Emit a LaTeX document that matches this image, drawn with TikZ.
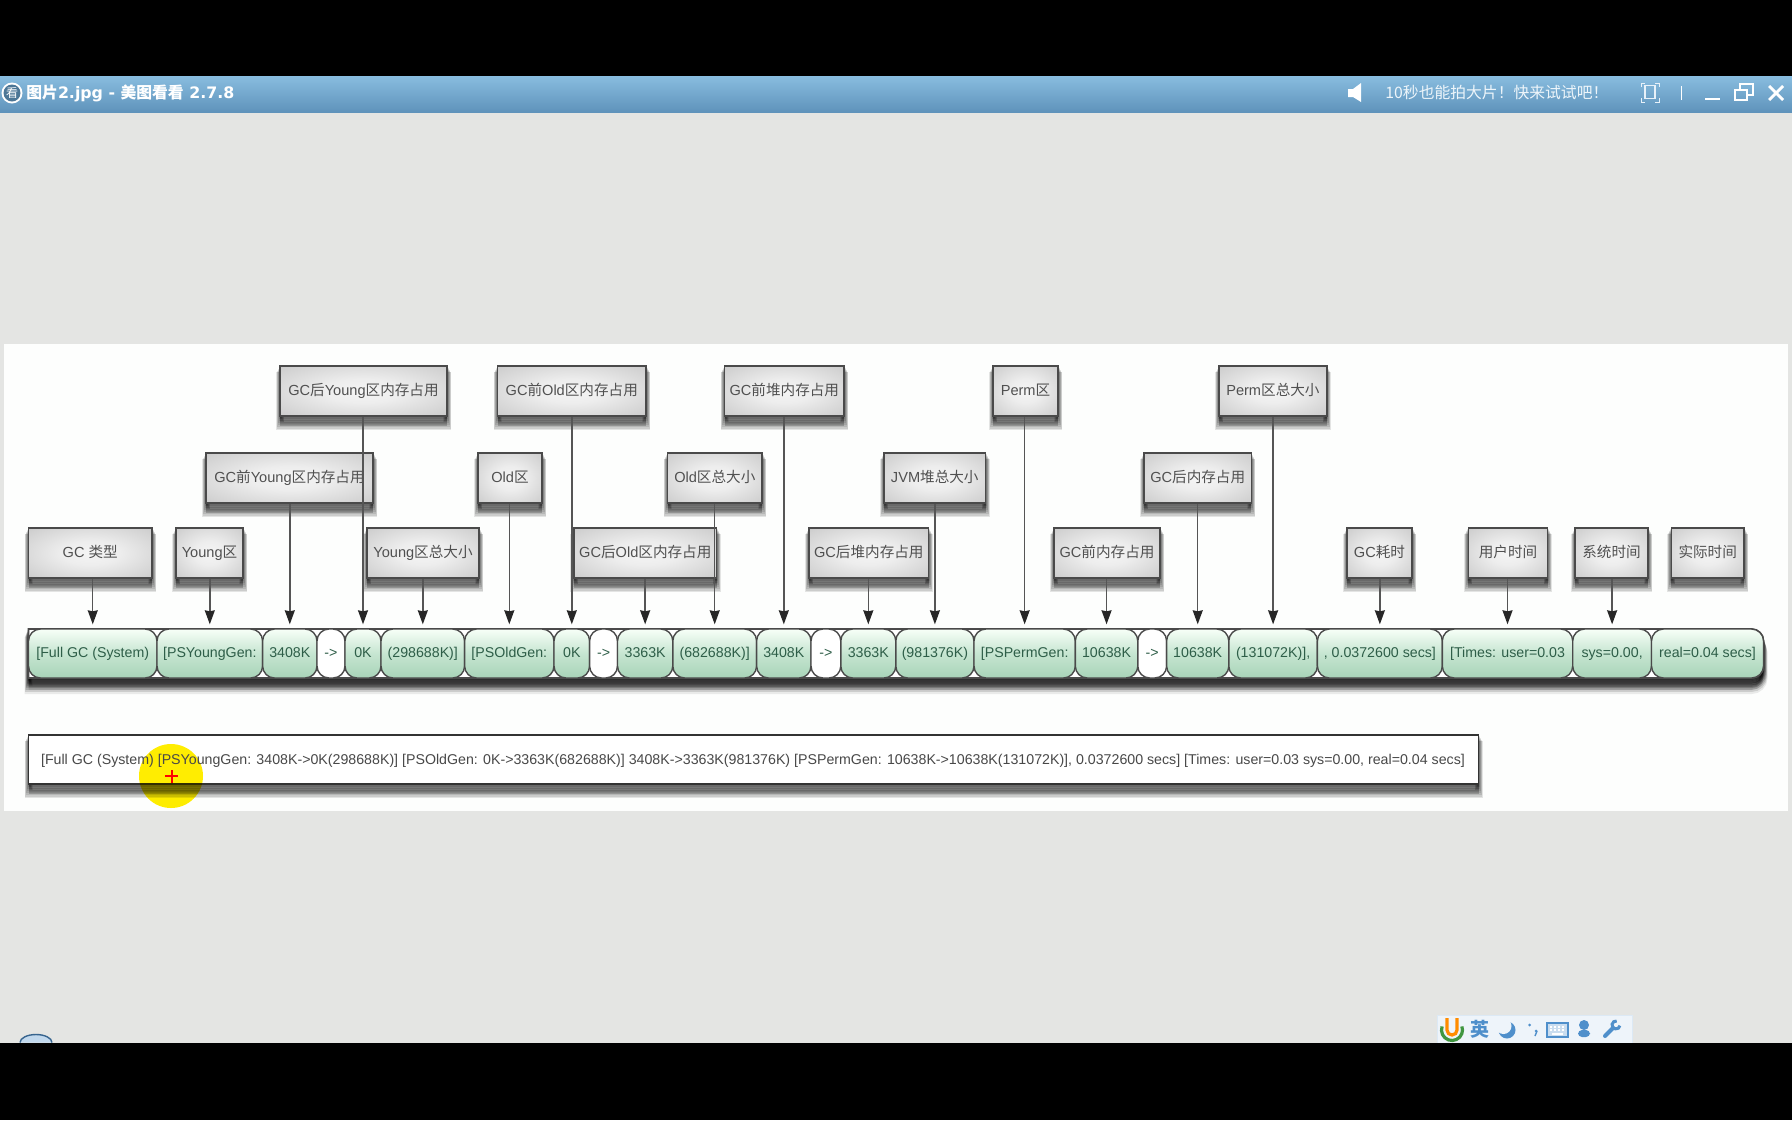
\documentclass[tikz,border=0pt]{standalone}
\usepackage{fontspec}
\setmainfont{Liberation Sans}
\newfontfamily\cjk{Noto Sans CJK SC}
\newfontfamily\uifont{DejaVu Sans}
\usetikzlibrary{arrows.meta,calc}
\newcommand{\zh}[1]{{\cjk #1}}
\definecolor{pagebg}{HTML}{E4E5E3}
\definecolor{panelc}{HTML}{FDFEFD}
\definecolor{labeltxt}{HTML}{505050}
\definecolor{segtxt}{HTML}{2E5E48}
\definecolor{edgec}{HTML}{4A4A4A}
\definecolor{linkc}{HTML}{555555}
\definecolor{traybg}{HTML}{EEF4FA}
\definecolor{trayblue}{HTML}{4F8FCB}
\definecolor{HLgreen}{HTML}{A8D4B8}
\definecolor{HLmid}{HTML}{C6E5D1}
\definecolor{HLtop}{HTML}{88BCDF}
\definecolor{HLbot}{HTML}{5F93BB}
\pgfdeclareradialshading{boxrad}{\pgfpointorigin}{rgb(0bp)=(.96,.96,.96);rgb(12bp)=(.93,.93,.93);rgb(32bp)=(.82,.82,.82);rgb(50bp)=(.70,.70,.70);rgb(72bp)=(.58,.58,.58)}
\tikzset{
  shadowlayer/.style n args={3}{preaction={draw=black,fill=black,opacity=#1,line width=#2,transform canvas={yshift=#3}}},
  softshadow/.style={
    shadowlayer={.10}{4pt}{-5.2pt},shadowlayer={.10}{3.5pt}{-4.8pt},shadowlayer={.10}{3pt}{-4pt},
    shadowlayer={.10}{2.5pt}{-3.2pt},shadowlayer={.10}{2pt}{-2.4pt},shadowlayer={.10}{1.5pt}{-1.6pt},shadowlayer={.10}{1pt}{-.8pt}},
  darkshadow/.style={
    shadowlayer={.08}{4pt}{-6pt},shadowlayer={.12}{3.5pt}{-5.2pt},shadowlayer={.16}{3pt}{-4.4pt},
    shadowlayer={.20}{2.5pt}{-3.6pt},shadowlayer={.22}{2pt}{-2.8pt},shadowlayer={.24}{1.5pt}{-2pt},shadowlayer={.25}{1pt}{-1pt}},
  labelbox/.style={draw=edgec,line width=.7pt,shading=boxrad,softshadow,inner sep=0pt,minimum height=25pt,text=labeltxt,text height=6pt,text depth=1.5pt,font=\fontsize{7.3}{9}\selectfont},
  greenseg/.style={draw=edgec,line width=.7pt,rounded corners=6pt,top color=green!3!white,bottom color=HLgreen,middle color=HLmid,inner sep=0pt,minimum height=24.5pt,text=segtxt,text height=5.5pt,text depth=1.5pt,font=\fontsize{7.1}{9}\selectfont},
  whiteseg/.style={draw=edgec,line width=.7pt,rounded corners=6pt,fill=white,inner sep=0pt,minimum height=24.5pt,text=segtxt,text height=5.5pt,text depth=1.5pt,font=\fontsize{7.1}{9}\selectfont},
  pointer/.style={draw=linkc,line width=.7pt,-{Stealth[length=7pt,width=5pt,inset=.5pt,color=black!85]},shorten >=2pt},
  chrometxt/.style={inner sep=0pt,anchor=west},
  chromeline/.style={draw=white,line width=1pt}
}
\begin{document}
\begin{tikzpicture}[x=0.5pt,y=-0.5pt]
\useasboundingbox (0,0) rectangle (1792,1120);
% screen
\fill[pagebg] (0,0) rectangle (1792,1120);
\fill[black] (0,0) rectangle (1792,76.5);
\shade[top color=HLtop,bottom color=HLbot] (0,76.5) rectangle (1792,112);
% partial dock icon at the screen bottom
\fill[white!65!trayblue] (20,1042.5) arc[start angle=180,end angle=360,x radius=16,y radius=8] -- cycle;
\draw[trayblue!70!black,line width=.7pt] (20,1042.5) arc[start angle=180,end angle=360,x radius=16,y radius=8];
\fill[black] (0,1042.5) rectangle (1792,1120);
% title bar left
\fill[white] (12,93) circle[radius=10.5];
\fill[HLbot!80!black] (12,93) circle[radius=8.5];
\node[text=white,inner sep=0pt,font=\cjk\fontsize{6}{6}\selectfont] (appicon) at (12,93) {看};
\node[chrometxt,text=white,font=\uifont\bfseries\fontsize{7.9}{9}\selectfont] (apptitle) at (26,93) {{\cjk\bfseries 图片}2.jpg - {\cjk\bfseries 美图看看} 2.7.8};
% title bar right
\fill[white] (1348,89) -- (1353,89) -- (1361,83) -- (1361,102) -- (1353,97) -- (1348,97) -- cycle;
\node[chrometxt,text=white!85!HLtop,font=\cjk\fontsize{7.9}{9}\selectfont] (promo) at (1385,93) {10秒也能拍大片！快来试试吧！};
\draw[chromeline,line width=.7pt,white!80!HLtop] (1645,85.5) -- (1655,85.5) -- (1655,98.5) -- (1645,98.5) -- cycle;
\draw[chromeline,line width=.5pt,white!80!HLtop] (1641,87) -- (1641,83) -- (1645,83) (1655,83) -- (1659,83) -- (1659,87) (1659,98) -- (1659,102) -- (1655,102) (1645,102) -- (1641,102) -- (1641,98);
\draw[chromeline,line width=.5pt] (1681,86) -- (1681,100);
\draw[chromeline] (1705,99) -- (1720,99);
\draw[chromeline] (1735,90) rectangle (1747,100);
\draw[chromeline] (1740,90) -- (1740,84) -- (1753,84) -- (1753,95) -- (1747,95);
\draw[chromeline,line width=1.4pt] (1769,86) -- (1783,100) (1783,86) -- (1769,100);
% tray
\fill[traybg] (1437,1015) rectangle (1632,1042.5);
\draw[white!80!trayblue,line width=.5pt] (1437,1042.5) -- (1437,1015) -- (1632,1015) -- (1632,1042.5);
\draw[green!45!black!75,line width=1.6pt] (1442.1,1026.4) arc[start angle=200,end angle=-20,radius=10.5];
\draw[orange!90!yellow,line width=1.6pt] (1447,1018) -- (1447,1030) arc[start angle=180,end angle=0,radius=5] -- (1457,1018);
\node[text=trayblue,inner sep=0pt,font=\cjk\bfseries\fontsize{9.5}{10}\selectfont] (imeglyph) at (1479.5,1029.5) {英};
\fill[trayblue] (1507,1030) circle[radius=8.5];
\fill[traybg] (1503.5,1026) circle[radius=8];
\fill[trayblue] (1529.5,1025) circle[radius=1.5];
\fill[trayblue] (1536,1031) circle[radius=1.5];
\draw[trayblue,line width=.7pt] (1537,1031) -- (1535,1036);
\draw[trayblue,fill=white!70!trayblue,line width=.8pt] (1547,1023) rectangle (1568,1037);
\draw[white,line width=.8pt,dash pattern=on 1pt off 1pt] (1550,1027) -- (1566,1027) (1550,1030) -- (1566,1030);
\draw[white,line width=.8pt] (1552,1034) -- (1563,1034);
\fill[trayblue] (1584,1025) circle[radius=5];
\fill[trayblue,rounded corners=2pt] (1578,1037) rectangle (1590,1030);
\draw[trayblue,line width=2pt,line cap=round] (1605,1036) -- (1613,1028);
\draw[trayblue,line width=1.5pt] (1616.7,1021) arc[start angle=280,end angle=10,radius=4];
% panel
\fill[panelc] (4,344) rectangle (1788,811);
% token bar backing: square at the left, rounded at the right
\path[draw=edgec,line width=.9pt,fill=white,darkshadow] (28.5,629) [rounded corners=6pt] -- (1763.5,629) -- (1763.5,678) [sharp corners] -- (28.5,678) -- cycle;
\foreach \n/\a/\b/\st/\t in {
 s1/28.5/157/greenseg/{[Full GC (System)},
 s2/157/262.6/greenseg/{[PSYoungGen:},
 s3/262.6/317/greenseg/{3408K},
 s4/317/345/whiteseg/{->},
 s5/345/381/greenseg/{0K},
 s6/381/464.6/greenseg/{(298688K)]},
 s7/464.6/554/greenseg/{[PSOldGen:},
 s8/554/589.6/greenseg/{0K},
 s9/589.6/617.5/whiteseg/{->},
 s10/617.5/672.8/greenseg/{3363K},
 s11/672.8/756.6/greenseg/{(682688K)]},
 s12/756.6/811/greenseg/{3408K},
 s13/811/840.8/whiteseg/{->},
 s14/840.8/895.8/greenseg/{3363K},
 s15/895.8/974/greenseg/{(981376K)},
 s16/974/1075.3/greenseg/{[PSPermGen:},
 s17/1075.3/1137.8/greenseg/{10638K},
 s18/1137.8/1166.6/whiteseg/{->},
 s19/1166.6/1228.8/greenseg/{10638K},
 s20/1228.8/1317.4/greenseg/{(131072K)],},
 s21/1317.4/1442.3/greenseg/{, 0.0372600 secs]},
 s22/1442.3/1572.7/greenseg/{[Times: user=0.03},
 s23/1572.7/1651.5/greenseg/{sys=0.00,},
 s24/1651.5/1763.5/greenseg/{real=0.04 secs]}}{
  \pgfmathsetmacro\cx{(\a+\b)/2}
  \pgfmathsetmacro\w{(\b-\a)*0.5}
  \node[\st,minimum width=\w pt] (\n) at (\cx,653.5) {\t};
}
% label boxes
\foreach \n/\a/\b/\y/\t in {
 b1/28.5/152/553/{GC \zh{类型}},
 b2/176/243/553/{Young\zh{区}},
 b3/206/373/478/{GC\zh{前}Young\zh{区内存占用}},
 b4/280/447/391/{GC\zh{后}Young\zh{区内存占用}},
 b5/367/479/553/{Young\zh{区总大小}},
 b6/478/542/478/{Old\zh{区}},
 b7/497.5/646/391/{GC\zh{前}Old\zh{区内存占用}},
 b8/574/716.6/553/{GC\zh{后}Old\zh{区内存占用}},
 b9/667.6/762/478/{Old\zh{区总大小}},
 b10/724.6/844/391/{GC\zh{前堆内存占用}},
 b11/809/928.6/553/{GC\zh{后堆内存占用}},
 b12/884/985.5/478/{JVM\zh{堆总大小}},
 b13/993/1058/391/{Perm\zh{区}},
 b14/1054/1160/553/{GC\zh{前内存占用}},
 b15/1144/1251.4/478/{GC\zh{后内存占用}},
 b16/1219/1326.8/391/{Perm\zh{区总大小}},
 b17/1347/1412/553/{GC\zh{耗时}},
 b18/1468.4/1547.7/553/{\zh{用户时间}},
 b19/1575/1648/553/{\zh{系统时间}},
 b20/1671.4/1744/553/{\zh{实际时间}}}{
  \pgfmathsetmacro\cx{(\a+\b)/2}
  \pgfmathsetmacro\w{(\b-\a)*0.5}
  \node[labelbox,minimum width=\w pt] (\n) at (\cx,\y) {\t};
}
% connectors
\foreach \f/\g in {b1/s1,b2/s2,b3/s3,b4/s5,b5/s6,b6/s7,b7/s8,b8/s10,b9/s11,b10/s12,b11/s14,b12/s15,b13/s16,b14/s17,b15/s19,b16/s20,b17/s21,b18/s22,b19/s23}{
  \draw[pointer] (\f.south -| \g.north) -- (\g.north);
}
% full log line
\node[draw=black!80,line width=.8pt,fill=white,softshadow,inner sep=0pt,minimum width=725pt,minimum height=24.5pt] (logbox) at (753.5,759.5) {};
\begin{scope}[blend mode=multiply]
\fill[yellow!95!orange] (171,776) circle[radius=32];
\end{scope}
\node[inner sep=0pt,text=labeltxt!90!black,text height=5.5pt,text depth=1.5pt,font=\fontsize{7.1}{9}\selectfont] (logtext) at (753,760) {[Full GC (System) [PSYoungGen: 3408K->0K(298688K)] [PSOldGen: 0K->3363K(682688K)] 3408K->3363K(981376K) [PSPermGen: 10638K->10638K(131072K)], 0.0372600 secs] [Times: user=0.03 sys=0.00, real=0.04 secs]};
\draw[red,line width=1pt] (165,776) -- (178,776) (171.5,770) -- (171.5,783);
\end{tikzpicture}
\end{document}
